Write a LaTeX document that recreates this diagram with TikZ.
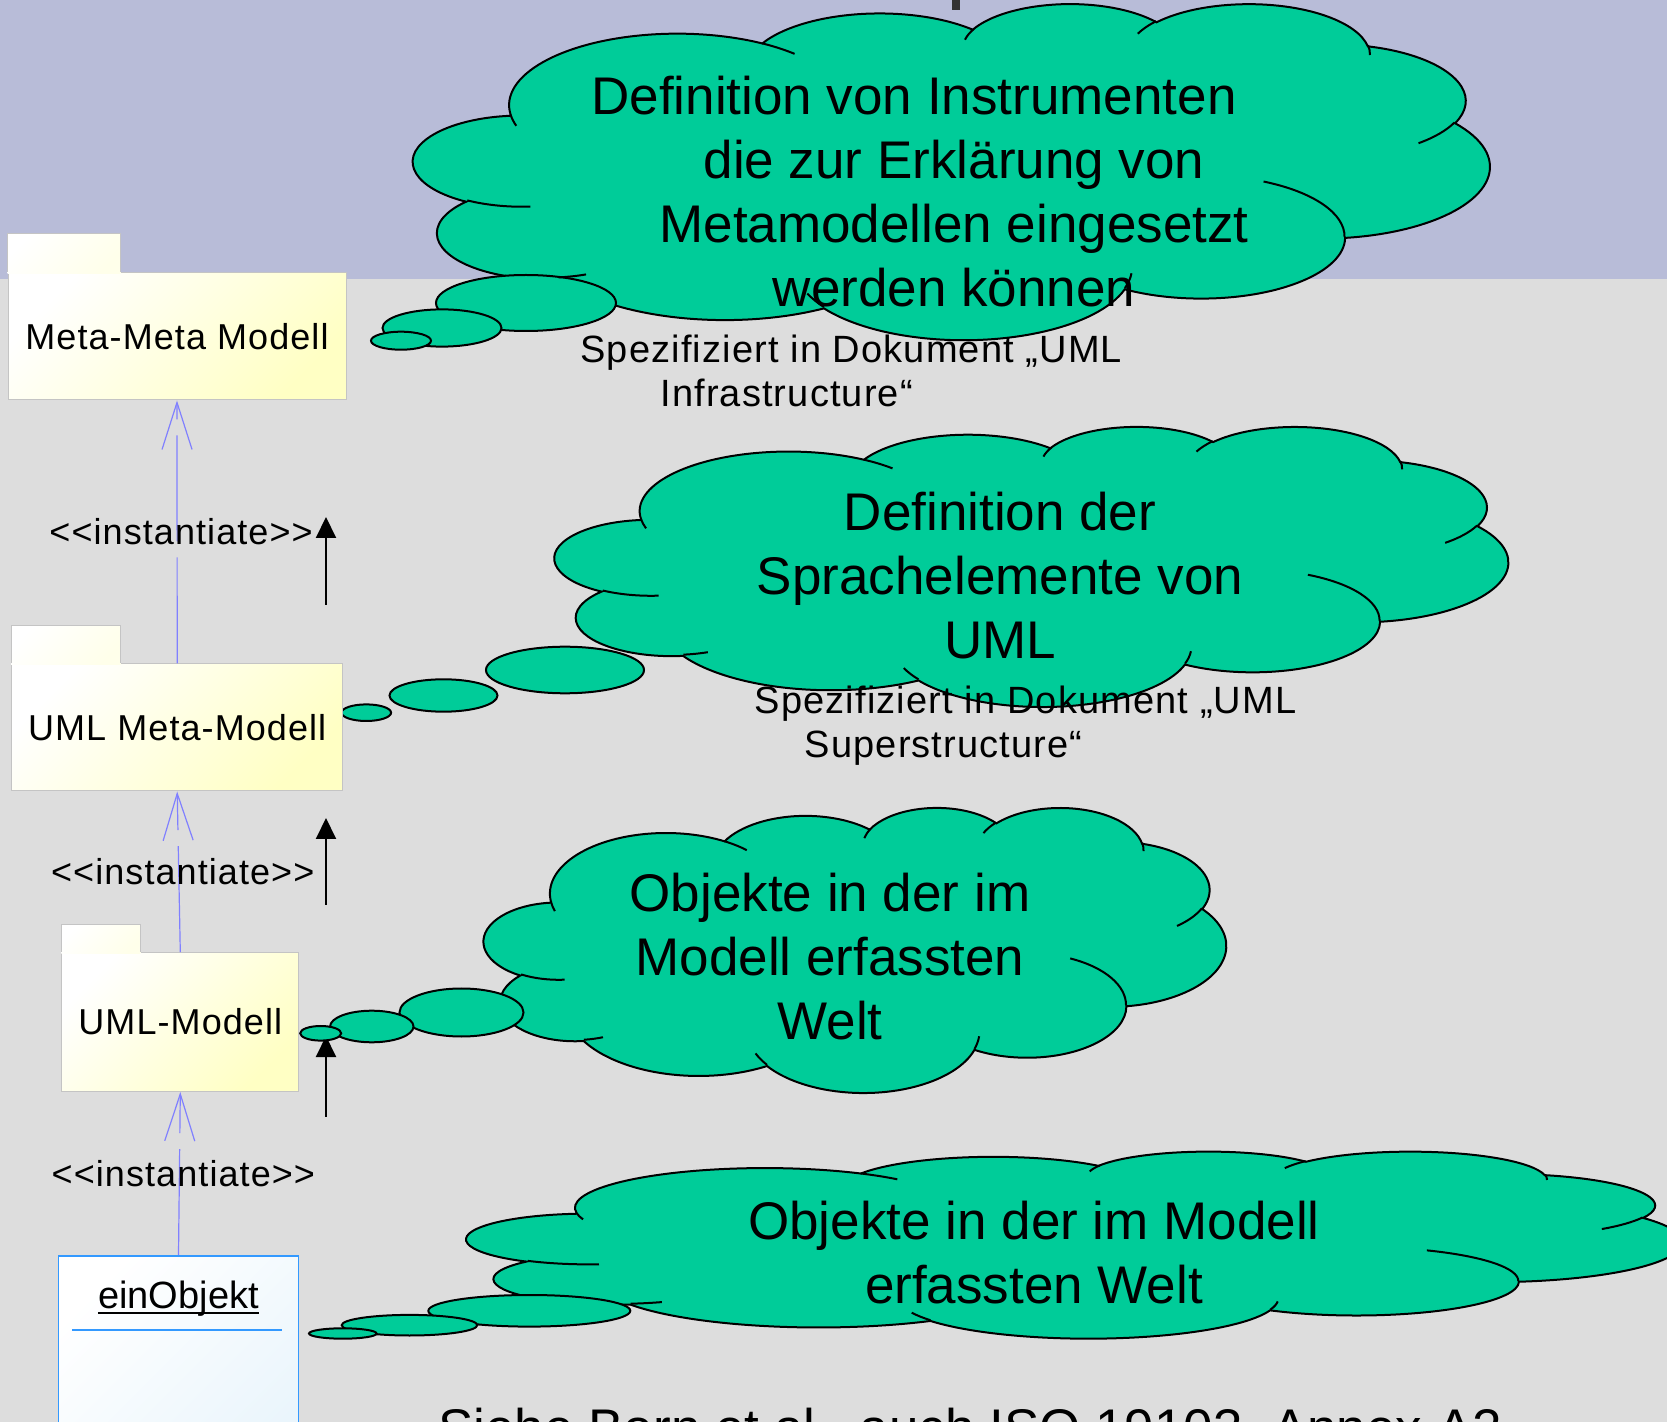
\documentclass[tikz,border=0pt]{standalone}
\usepackage{fontspec}
\setmainfont{Liberation Sans}
\newfontfamily\sperrfont[LetterSpace=3]{Liberation Sans}
\usetikzlibrary{arrows.meta, calc}

\definecolor{lavendel}{RGB}{184,188,216}
\definecolor{hintergrund}{RGB}{221,221,221}
\definecolor{wolkengruen}{RGB}{0,204,153}
\definecolor{paketgelb}{RGB}{255,255,196}
\definecolor{paketrand}{RGB}{196,196,196}
\definecolor{objblau}{RGB}{51,153,255}
\definecolor{objhell}{RGB}{234,245,252}
\definecolor{abhblau}{RGB}{128,128,255}
\definecolor{titelgrau}{RGB}{51,51,51}

\tikzset{
  wolkenform/.style={fill=wolkengruen, draw=black, line width=1pt},
  falte/.style={draw=black, line width=1pt},
  bogen/.style n args={4}{x radius=#1, y radius=#2,
    start angle={atan2(#1*sin(#3),#2*cos(#3))},
    delta angle={mod(atan2(#1*sin(#3+#4),#2*cos(#3+#4))-atan2(#1*sin(#3),#2*cos(#3))+720,360)}},
  paket/.style={draw=paketrand, line width=0.5pt, top color=white, bottom color=paketgelb,
    shading angle=45, inner sep=0pt, font=\sperrfont\fontsize{18}{22}\selectfont},
  reiter/.style={top color=white, bottom color=paketgelb!35, shading angle=45},
  objekt/.style={draw=objblau, line width=0.75pt, top color=white, bottom color=objhell,
    shading angle=45, minimum width=120.2pt, minimum height=110pt, anchor=north},
  abh/.style={draw=abhblau, line width=0.6pt, dash pattern=on 53pt off 8pt,
    -{Straight Barb[length=23.5pt,width=15pt]}},
  marke/.style={font=\sperrfont\fontsize{18}{22}\selectfont, text=black, xshift=2pt},
  pfeil/.style={line width=1pt, -{Triangle[length=10.5pt,width=10pt]}},
  wolkentext/.style={font=\fontsize{26.5}{32}\selectfont, align=center, anchor=base},
  spez/.style={font=\sperrfont\fontsize{19}{22}\selectfont, align=left, anchor=base west, inner sep=0pt},
}

\newcommand{\wolke}[4]{%
  \begin{scope}[shift={(#1,#2)},xscale=#3/432,yscale=#4/432]
    \filldraw[wolkenform] (39,143.7)
      arc[bogen={67.53}{91.90}{-190.4875}{123.7805}]
      arc[bogen={53.33}{72.67}{-144.1024}{89.9452}]
      arc[bogen={43.65}{59.45}{-145.8079}{99.7230}]
      arc[bogen={48.57}{65.95}{-130.9861}{117.2417}]
      arc[bogen={53.33}{72.73}{-78.7089}{109.0269}]
      arc[bogen={67.75}{92.20}{-46.2673}{130.2690}]
      arc[bogen={57.85}{78.67}{0.6250}{114.0333}]
      arc[bogen={67.52}{92.15}{22.4516}{115.1726}]
      arc[bogen={77.20}{105.43}{66.2426}{75.7110}]
      arc[bogen={43.60}{59.18}{-274.9421}{146.7356}]
      arc[bogen={43.45}{59.45}{-246.8285}{152.5189}]
      -- cycle;
  \end{scope}}

\newcommand{\falten}[4]{%
  \begin{scope}[shift={(#1,#2)},xscale=#3/432,yscale=#4/432]
    \draw[falte] (46.93,261.77) arc[bogen={43.45}{59.45}{86.742}{26.4295}]
      (69.28,348.99) arc[bogen={43.60}{59.18}{73.6105}{11.4475}]
      (164.78,390.90) arc[bogen={67.52}{92.15}{137.6242}{14.0811}]
      (288.27,347.51) arc[bogen={67.52}{92.15}{6.4533}{15.9984}]
      (341.29,229.54) arc[bogen={57.85}{78.67}{-70.2924}{70.9174}]
      (417.98,153.54) arc[bogen={53.33}{72.73}{30.3180}{27.7515}]
      (383.24,54.26) arc[bogen={48.57}{65.95}{-13.7443}{14.8589}]
      (290.78,39.52) arc[bogen={48.57}{65.95}{-149.1815}{18.1954}]
      (221.41,47.20) arc[bogen={43.65}{59.45}{-163.4943}{17.6864}]
      (140.00,51.92) arc[bogen={67.53}{91.90}{-66.7070}{12.3194}]
      (41.27,157.89) arc[bogen={67.53}{91.90}{157.6544}{11.8582}];
  \end{scope}}

\begin{document}
\begin{tikzpicture}[x=0.5pt, y=-0.5pt]
    \useasboundingbox (0,0) rectangle (1667,1422);
    \clip (0,0) rectangle (1667,1422);

    \fill[lavendel] (0,0) rectangle (1667,279);
    \fill[hintergrund] (0,279) rectangle (1667,1422);
    \fill[titelgrau] (951.7,0) rectangle (960,10);

    \coordinate (p1u) at (326,605);
    \coordinate (p1o) at (326,517);
    \coordinate (p2u) at (326,905);
    \coordinate (p2o) at (326,818);
    \coordinate (p3u) at (326,1116.5);
    \coordinate (p3o) at (326,1036);

    \draw[pfeil] (p1u) -- (p1o);
    \draw[pfeil] (p2u) -- (p2o);
    \draw[pfeil] (p3u) -- (p3o);

    \wolke{413.5}{3}{1076}{336}
    \filldraw[wolkenform] (526,303) ellipse[x radius=90, y radius=28];
    \filldraw[wolkenform] (442,328) ellipse[x radius=59.5, y radius=18.6];
    \filldraw[wolkenform] (401,340.7) ellipse[x radius=30, y radius=9];
    \falten{413.5}{3}{1076}{336}

    \wolke{555}{426}{953}{280}
    \filldraw[wolkenform] (565,670) ellipse[x radius=79, y radius=23.3];
    \filldraw[wolkenform] (443.5,695.5) ellipse[x radius=54, y radius=16.2];
    \filldraw[wolkenform] (366.3,712.7) ellipse[x radius=24.8, y radius=8.3];
    \falten{555}{426}{953}{280}

    \wolke{484}{807}{742}{285}
    \filldraw[wolkenform] (461.5,1012.5) ellipse[x radius=62, y radius=24];
    \filldraw[wolkenform] (371.8,1026.5) ellipse[x radius=41.7, y radius=15.8];
    \filldraw[wolkenform] (320.7,1033.3) ellipse[x radius=20.5, y radius=7.3];
    \falten{484}{807}{742}{285}

    \wolke{467}{1151}{1215}{187}
    \filldraw[wolkenform] (529.3,1310.8) ellipse[x radius=101, y radius=15.8];
    \filldraw[wolkenform] (409.5,1325.2) ellipse[x radius=67.8, y radius=10.3];
    \filldraw[wolkenform] (342.8,1333.5) ellipse[x radius=33.8, y radius=5.2];
    \falten{467}{1151}{1215}{187}

    \node[paket, minimum width=169pt, minimum height=63.5pt] (mmm) at (177,336.5) {Meta-Meta Modell};
    \shade[reiter] ([yshift=-0.5pt]mmm.north west) rectangle ++(113,-40);
    \draw[paketrand, line width=0.5pt] (mmm.north west) -- ++(0,-39) -- ++(113,0) -- ++(0,39);

    \node[paket, minimum width=165.5pt, minimum height=63.5pt] (um) at (177.2,727.5) {UML Meta-Modell};
    \shade[reiter] ([yshift=-0.5pt]um.north west) rectangle ++(109.3,-39.4);
    \draw[paketrand, line width=0.5pt] (um.north west) -- ++(0,-38.4) -- ++(109.3,0) -- ++(0,38.4);

    \node[paket, minimum width=118.35pt, minimum height=69.4pt] (umod) at (180.3,1022.1) {UML-Modell};
    \shade[reiter] ([yshift=-0.5pt]umod.north west) rectangle ++(79,-28.7);
    \draw[paketrand, line width=0.5pt] (umod.north west) -- ++(0,-27.7) -- ++(79,0) -- ++(0,27.7);

    \node[objekt] (obj) at (178.5,1255) {};
    \node[font=\fontsize{19}{22}\selectfont, anchor=base, inner sep=0pt] (objname) at (178.5,1308) {einObjekt};
    \draw[line width=1pt] ([yshift=-2.5pt]objname.base west) -- ([yshift=-2.5pt]objname.base east);
    \draw[objblau, line width=0.6pt] ([xshift=7.35pt,yshift=-37.5pt]obj.north west) -- ([xshift=-8.85pt,yshift=-37.5pt]obj.north east);

    \draw[abh] (um.north) -- node[marke] (inst1) {<{}<instantiate>{}>} (mmm.south);
    \draw[abh] (umod.north) -- node[marke] (inst2) {<{}<instantiate>{}>} (um.south);
    \draw[abh] (obj.north) -- node[marke] (inst3) {<{}<instantiate>{}>} (umod.south);

    \node[wolkentext] (txt1) at (954,307) {Definition von Instrumenten\hspace*{40pt}\\die zur Erklärung von\\Metamodellen eingesetzt\\werden können};
    \node[spez] (spez1) at (580,407) {Spezifiziert in Dokument „UML\\\hspace*{40pt}Infrastructure“};

    \node[wolkentext] (txt2) at (1000,659) {Definition der\\Sprachelemente von\\UML};
    \node[spez] (spez2) at (754.4,758) {Spezifiziert in Dokument „UML\\\hspace*{25pt}Superstructure“};

    \node[wolkentext] (txt3) at (830,1039.5) {Objekte in der im\\Modell erfassten\\Welt};
    \node[wolkentext] (txt4) at (1034,1303.5) {Objekte in der im Modell\\erfassten Welt};

    \node[font=\fontsize{26.5}{32}\selectfont, anchor=base west, inner sep=0pt] (quelle) at (438,1446) {Siehe Born et al., auch ISO 19103, Annex A2};
\end{tikzpicture}
\end{document}
